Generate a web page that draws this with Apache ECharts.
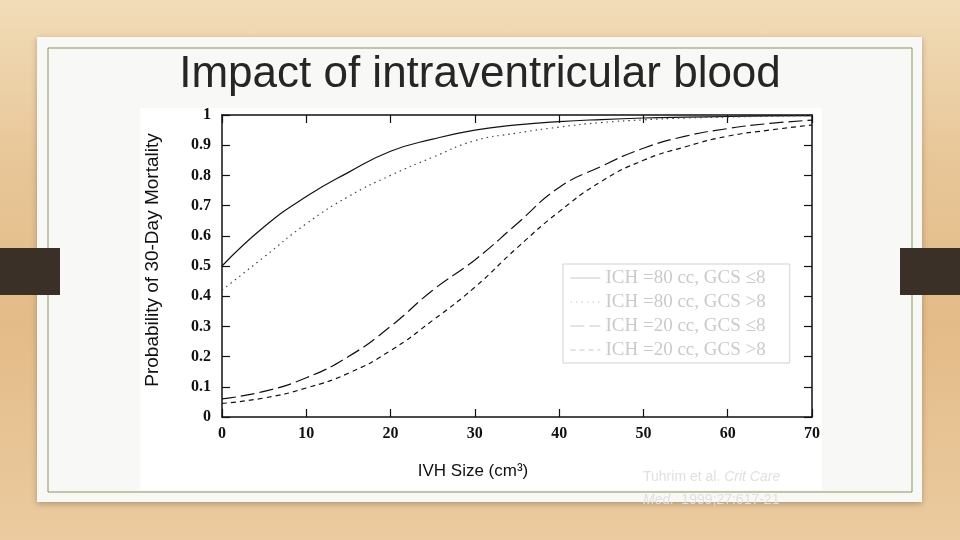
<!DOCTYPE html>
<html>
<head>
<meta charset="utf-8">
<title>Impact of intraventricular blood</title>
<script src="https://cdn.jsdelivr.net/npm/echarts@6/dist/echarts.min.js"></script>
<style>
  html, body { margin: 0; padding: 0; }
  body {
    width: 960px; height: 540px; overflow: hidden;
    background: linear-gradient(180deg, #f1dcb8 0%, #e8c697 30%, #e3bb88 60%, #ebcb9f 100%);
  }
  #chart { width: 960px; height: 540px; }
</style>
</head>
<body>
<div id="chart"></div>
<script>
// IVH size (cm3) on the x axis
const ivhSize = [0, 5, 10, 15, 20, 25, 30, 35, 40, 45, 50, 55, 60, 65, 70];

// probability of 30-day mortality
const ich80Low = [0.50, 0.63, 0.73, 0.81, 0.88, 0.92, 0.95, 0.967, 0.978, 0.985, 0.99, 0.993, 0.995, 0.997, 0.998];
const ich80High = [0.42, 0.53, 0.64, 0.73, 0.80, 0.86, 0.915, 0.94, 0.96, 0.975, 0.984, 0.99, 0.993, 0.996, 0.998];
const ich20Low = [0.06, 0.085, 0.13, 0.20, 0.30, 0.42, 0.52, 0.64, 0.76, 0.83, 0.89, 0.93, 0.955, 0.972, 0.983];
const ich20High = [0.045, 0.063, 0.096, 0.145, 0.22, 0.32, 0.43, 0.56, 0.68, 0.78, 0.85, 0.895, 0.93, 0.95, 0.967];

const seriesNames = [
  'ICH =80 cc, GCS \u22648',
  'ICH =80 cc, GCS >8',
  'ICH =20 cc, GCS \u22648',
  'ICH =20 cc, GCS >8'
];

const toPoints = values => ivhSize.map((x, i) => [x, values[i]]);

const chart = echarts.init(document.getElementById('chart'));

const tickLabel = {
  color: '#111',
  fontFamily: 'Liberation Serif',
  fontWeight: 'bold',
  fontSize: 16
};
const axisLine = { show: true, onZero: false, lineStyle: { color: '#111', width: 1.5 } };
const axisTick = { show: true, inside: true, length: 8, lineStyle: { color: '#111', width: 1.2 } };

function makeLine(name, values, type, color) {
  return {
    name: name,
    type: 'line',
    data: toPoints(values),
    smooth: true,
    symbol: 'none',
    showSymbol: false,
    silent: true,
    lineStyle: { color: color, width: 1.2, type: type },
    itemStyle: { color: color }
  };
}

chart.setOption({
  backgroundColor: 'transparent',
  animation: false,
  textStyle: { fontFamily: 'Liberation Sans' },
  graphic: [
    // slide card
    {
      type: 'rect', z: -20,
      shape: { x: 37, y: 37, width: 885, height: 465 },
      style: { fill: '#f8f8f7', shadowBlur: 6, shadowColor: 'rgba(0,0,0,0.25)', shadowOffsetY: 2 }
    },
    {
      type: 'rect', z: -19,
      shape: { x: 48, y: 48, width: 864, height: 444 },
      style: { fill: 'none', stroke: '#86955a', lineWidth: 1 }
    },
    // side tabs
    { type: 'rect', z: -18, shape: { x: 0, y: 248, width: 60, height: 47 }, style: { fill: '#3a3027' } },
    { type: 'rect', z: -18, shape: { x: 900, y: 248, width: 60, height: 47 }, style: { fill: '#3a3027' } },
    // scanned figure area
    { type: 'rect', z: -17, shape: { x: 140, y: 108, width: 682, height: 382 }, style: { fill: '#ffffff' } },
    {
      type: 'text', z: 10, left: 'center', top: 53,
      style: {
        text: 'Impact of intraventricular blood',
        fill: '#262626',
        font: '44px "Liberation Sans", Arial, sans-serif'
      }
    },
    {
      type: 'text', z: 10, left: 643, top: 466,
      style: {
        text: '{n|Tuhrim et al. }{i|Crit Care}\n{i|Med.} {n| 1999;27:617-21}',
        lineHeight: 23,
        rich: {
          n: { fill: '#e0e0e0', font: '14px "Liberation Sans", Arial, sans-serif', lineHeight: 23 },
          i: { fill: '#e0e0e0', font: 'italic 14px "Liberation Sans", Arial, sans-serif', lineHeight: 23 }
        }
      }
    }
  ],
  legend: {
    orient: 'vertical',
    left: 563,
    top: 264,
    padding: [4, 24, 3, 7],
    itemGap: 4,
    itemWidth: 30,
    itemHeight: 14,
    backgroundColor: '#ffffff',
    borderColor: '#d2d2d2',
    borderWidth: 1,
    selectedMode: false,
    itemStyle: { color: 'rgba(0,0,0,0)', opacity: 0, borderWidth: 0 },
    lineStyle: { color: '#c8c8c8', width: 1 },
    textStyle: { color: '#cacaca', fontFamily: 'Liberation Serif', fontSize: 19, lineHeight: 20, padding: [0, 0, 0, 0] },
    data: seriesNames
  },
  grid: { left: 222, right: 148, top: 115, bottom: 123, containLabel: false },
  xAxis: [
    {
      type: 'value', position: 'bottom', min: 0, max: 70, interval: 10,
      axisLine: axisLine, axisTick: axisTick, splitLine: { show: false },
      axisLabel: Object.assign({ margin: 9 }, tickLabel),
      name: 'IVH Size (cm\u00b3)', nameLocation: 'middle', nameGap: 46,
      nameTextStyle: { color: '#111', fontFamily: 'Liberation Sans', fontSize: 17, padding: [0, 88, 0, 0] }
    },
    {
      type: 'value', position: 'top', min: 0, max: 70, interval: 10,
      axisLine: axisLine, axisTick: axisTick, splitLine: { show: false },
      axisLabel: { show: false }
    }
  ],
  yAxis: [
    {
      type: 'value', position: 'left', min: 0, max: 1, interval: 0.1,
      axisLine: axisLine, axisTick: axisTick, splitLine: { show: false },
      axisLabel: Object.assign({ margin: 11 }, tickLabel),
      name: 'Probability of 30-Day Mortality', nameLocation: 'middle', nameGap: 60,
      nameTextStyle: { color: '#111', fontFamily: 'Liberation Sans', fontSize: 19, padding: [0, 0, 0, 12] }
    },
    {
      type: 'value', position: 'right', min: 0, max: 1, interval: 0.1,
      axisLine: axisLine, axisTick: axisTick, splitLine: { show: false },
      axisLabel: { show: false }
    }
  ],
  series: [
    makeLine(seriesNames[0], ich80Low, 'solid', '#111'),
    makeLine(seriesNames[1], ich80High, [1.5, 4], '#444'),
    makeLine(seriesNames[2], ich20Low, [14, 5], '#111'),
    makeLine(seriesNames[3], ich20High, [5, 4], '#111')
  ]
});
</script>
</body>
</html>
